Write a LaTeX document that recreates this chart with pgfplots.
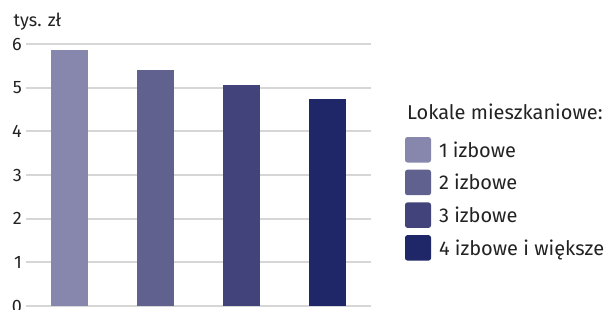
\documentclass[border=0pt]{standalone}
\usepackage{fontspec}
\setmainfont{Fira Sans}
\usepackage{pgfplots}
\pgfplotsset{compat=1.18}
\definecolor{cA}{HTML}{8787AD}
\definecolor{cB}{HTML}{60618F}
\definecolor{cC}{HTML}{41437A}
\definecolor{cD}{HTML}{1F2769}
\definecolor{gridc}{HTML}{D6D6D6}
\definecolor{txt}{HTML}{222222}
\begin{document}
\begin{tikzpicture}[x=1pt,y=1pt]
\path[use as bounding box] (0,0) rectangle (612,310);
\begin{axis}[
  at={(26pt,4pt)}, anchor=south west, scale only axis,
  width=345pt, height=262pt,
  xmin=-0.5, xmax=3.5, ymin=0, ymax=6,
  ytick={0,...,6}, xtick=\empty,
  axis line style={draw=none}, tick style={draw=none},
  ymajorgrids, grid style={draw=gridc, line width=2pt},
  yticklabel style={anchor=east, inner sep=0pt, xshift=-4pt, font=\fontsize{18}{21}\selectfont, text=txt},
  /pgf/number format/assume math mode=true,
  clip=false,
  legend style={draw=none, fill=none, inner sep=0pt, outer sep=0pt,
    at={(axis description cs:1.0986,0.645)}, anchor=north west,
    font=\fontsize{20}{24}\selectfont, text=txt,
    nodes={inner sep=0pt, text height=14.5pt, text depth=0pt}, row sep=7.2pt,
    /tikz/every odd column/.append style={column sep=8pt}},
  legend cell align=left,
]
\addplot[ybar, bar width=37pt, bar shift=0pt, fill=cA, draw=none,
  legend image code/.code={\fill[cA, rounded corners=2.5pt] (0pt,-12.75pt) rectangle (26pt,12.75pt);}]
  coordinates {(0,5.86)};
\addlegendentry{1 izbowe}
\addplot[ybar, bar width=37pt, bar shift=0pt, fill=cB, draw=none,
  legend image code/.code={\fill[cB, rounded corners=2.5pt] (0pt,-12.75pt) rectangle (26pt,12.75pt);}]
  coordinates {(1,5.40)};
\addlegendentry{2 izbowe}
\addplot[ybar, bar width=37pt, bar shift=0pt, fill=cC, draw=none,
  legend image code/.code={\fill[cC, rounded corners=2.5pt] (0pt,-12.75pt) rectangle (26pt,12.75pt);}]
  coordinates {(2,5.06)};
\addlegendentry{3 izbowe}
\addplot[ybar, bar width=37pt, bar shift=0pt, fill=cD, draw=none,
  legend image code/.code={\fill[cD, rounded corners=2.5pt] (0pt,-12.75pt) rectangle (26pt,12.75pt);}]
  coordinates {(3,4.74)};
\addlegendentry{4 izbowe i większe}
\end{axis}
\node[anchor=base west, inner sep=0pt, font=\fontsize{18}{21}\selectfont, text=txt] at (13.5,283.3) {tys. zł};
\node[anchor=base west, inner sep=0pt, font=\fontsize{20}{24}\selectfont, text=txt] at (407,190) {Lokale mieszkaniowe:};
\end{tikzpicture}
\end{document}
